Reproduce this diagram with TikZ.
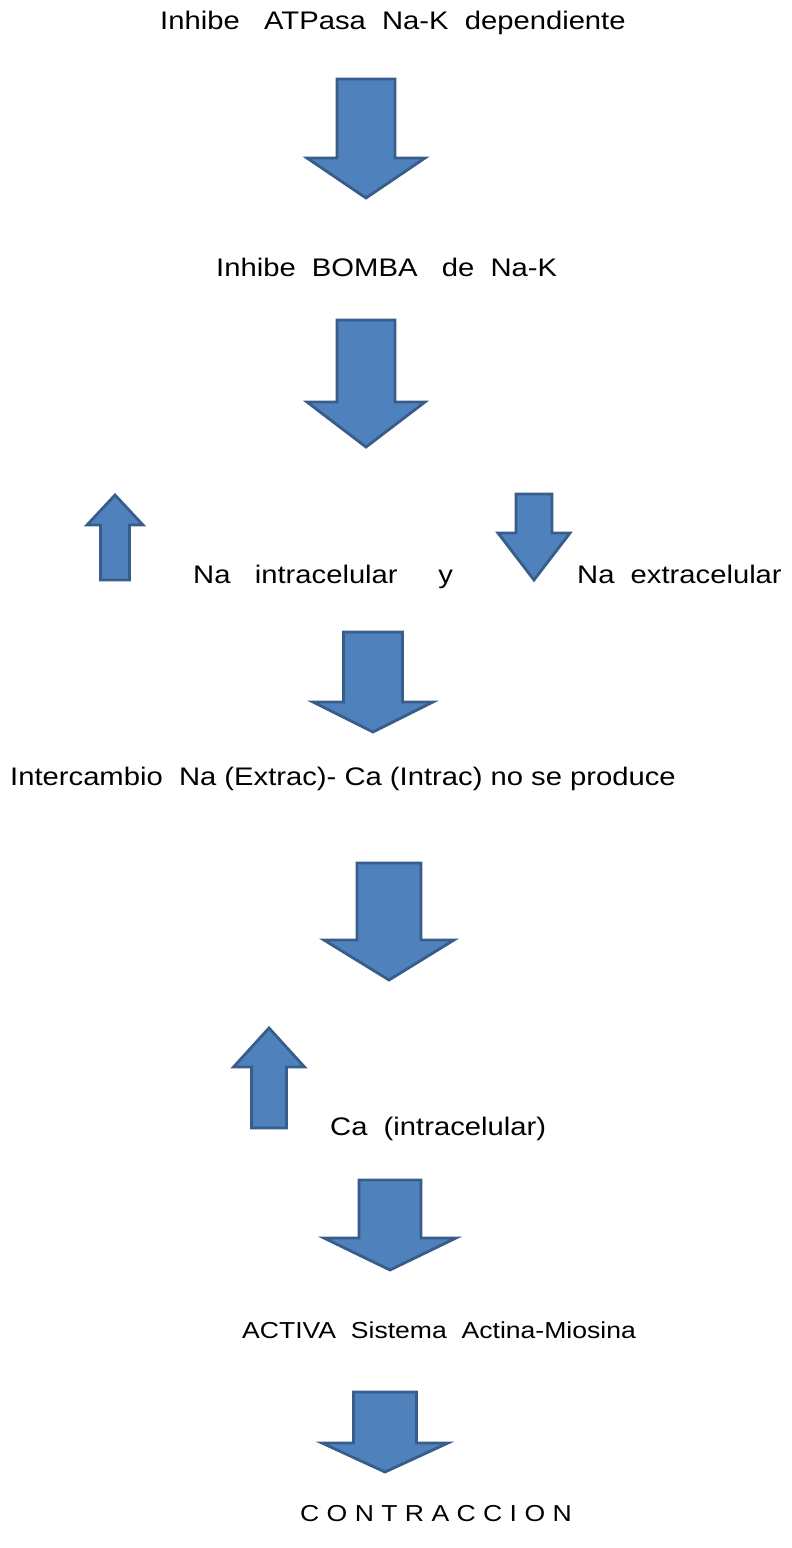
\documentclass[tikz,border=0pt]{standalone}
\usepackage{fontspec}
\setmainfont{Liberation Sans}[FakeStretch=1.15]
\usepackage{tikz}

\definecolor{azul}{HTML}{4F81BD}
\definecolor{borde}{HTML}{385D8A}

\tikzset{
    bloque/.style={fill=azul, draw=borde, line width=2.8pt, line join=miter},
    texto/.style={anchor=base west, inner sep=0pt, font=\fontsize{25.4}{30}\selectfont},
    textochico/.style={texto, font=\fontsize{23.1}{28}\selectfont}
}

% block arrow: centre x, base y, shaft width, head start y, head width, tip y
\newcommand{\flecha}[6]{%
    \filldraw[bloque] ({#1-#3/2},#2) -- ({#1-#3/2},#4) -- ({#1-#5/2},#4) -- (#1,#6)
        -- ({#1+#5/2},#4) -- ({#1+#3/2},#4) -- ({#1+#3/2},#2) -- cycle;}

\begin{document}
\begin{tikzpicture}[x=1pt, y=-1pt]
    \useasboundingbox (0,0) rectangle (792,1548);

    \node[texto] (atpasa) at (160, 29) {Inhibe\ \ \ ATPasa\ \ Na-K\ \ dependiente};
    \node[texto] (bomba) at (216, 276) {Inhibe\ \ BOMBA\ \ \ de\ \ Na-K};
    \node[texto] (naintra) at (193, 583) {Na\ \ \ intracelular\ \ \ \ \ y};
    \node[texto] (naextra) at (577, 583) {Na\ \ extracelular};
    \node[texto] (intercambio) at (10, 785) {Intercambio\ \ Na (Extrac)- Ca (Intrac) no se produce};
    \node[texto] (ca) at (330, 1135) {Ca\ \ (intracelular)};
    \node[textochico] (activa) at (242, 1338) {ACTIVA\ \ Sistema\ \ Actina-Miosina};
    \node[textochico] (contraccion) at (300, 1521) {C O N T R A C C I O N};

    \flecha{366}{79}{58}{158}{118}{198}
    \flecha{366}{320}{58}{402}{118}{447}
    \flecha{115}{580}{29}{525}{56}{495}
    \flecha{534}{494}{36}{533}{72}{580}
    \flecha{373}{632}{59}{702}{120}{732}
    \flecha{389}{863}{64}{940}{130}{980}
    \flecha{269}{1128}{35}{1067}{71}{1028}
    \flecha{390}{1180}{62}{1238}{132}{1270}
    \flecha{385}{1392}{63}{1443}{126}{1472}
\end{tikzpicture}
\end{document}
